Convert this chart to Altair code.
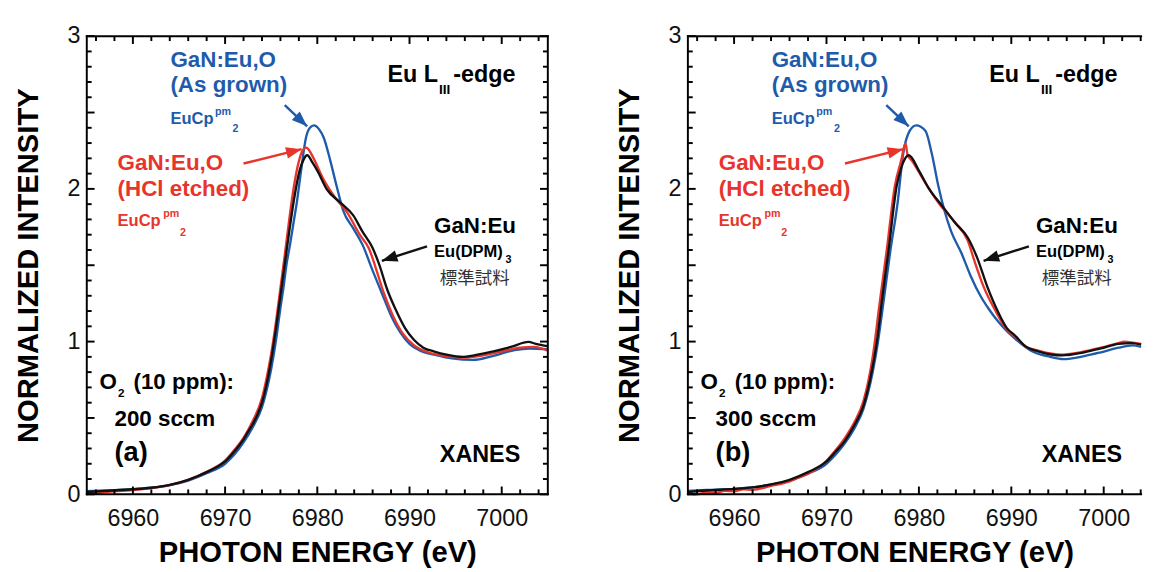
import altair as alt
import pandas as pd

FONT = "Liberation Sans"
CJK = "Noto Sans CJK JP"
BLUE = "#1f5bab"
RED = "#e8352b"
BLACK = "#111111"

# ---------------- panel (a): O2 200 sccm ----------------
a_blue_x = [6955, 6957, 6960, 6962, 6964, 6966, 6968, 6970, 6971, 6972, 6973, 6974, 6974.5, 6975, 6975.5,
            6976, 6976.3, 6976.7, 6977, 6977.4, 6977.8, 6978.24, 6978.77, 6979.2, 6979.65, 6980.2, 6980.7,
            6981.4, 6982.1, 6982.8, 6983.9, 6984.9, 6986.0, 6987.0, 6988.0, 6989, 6990, 6991, 6993, 6994.6,
            6996.9, 6999, 7001.4, 7003, 7005]
a_blue_y = [0.02, 0.025, 0.033, 0.043, 0.06, 0.09, 0.138, 0.20, 0.26, 0.34, 0.44, 0.57, 0.68, 0.82, 1.0,
            1.22, 1.34, 1.52, 1.62, 1.77, 1.92, 2.12, 2.335, 2.40, 2.416, 2.39, 2.335,
            2.187, 2.017, 1.86, 1.741, 1.635, 1.465, 1.317, 1.17, 1.06, 0.985, 0.945, 0.91, 0.89,
            0.88, 0.905, 0.945, 0.955, 0.95]

a_red_x = [6955, 6957, 6960, 6962, 6964, 6966, 6968, 6970, 6971, 6972, 6973, 6974, 6974.5, 6975, 6975.5,
           6976, 6976.5, 6977, 6977.5, 6978, 6978.4, 6978.8, 6979.2, 6979.6, 6980.7, 6981.4, 6982.1, 6983.2,
           6984.6, 6985.6, 6986.3, 6987.2, 6988.2, 6989.3, 6990.5, 6992, 6994, 6996, 6998, 7000, 7002,
           7003.5, 7005]
a_red_y = [0.005, 0.015, 0.028, 0.04, 0.06, 0.095, 0.148, 0.22, 0.29, 0.37, 0.48, 0.63, 0.76, 0.92, 1.12,
           1.35, 1.58, 1.82, 2.03, 2.18, 2.25, 2.27, 2.245, 2.20, 2.06, 1.99, 1.93, 1.85,
           1.70, 1.61, 1.49, 1.32, 1.17, 1.05, 0.975, 0.93, 0.905, 0.895, 0.91, 0.935, 0.96,
           0.965, 0.94]

a_black_x = [6955, 6957, 6960, 6962, 6964, 6966, 6967, 6968, 6969, 6970, 6971, 6972, 6972.5, 6973, 6973.5,
             6974, 6974.5, 6975, 6975.5, 6976, 6976.5, 6977, 6977.5, 6978, 6978.5, 6978.9, 6979.5, 6980,
             6981.05, 6982.5, 6983.9, 6984.9, 6986, 6986.7, 6987.6, 6988.5, 6989.5, 6990.5, 6991.5, 6992.7,
             6994, 6995.8, 6997, 6999, 7001, 7002.9, 7003.7, 7005]
a_black_y = [0.015, 0.022, 0.033, 0.043, 0.062, 0.095, 0.118, 0.145, 0.175, 0.215, 0.28, 0.36, 0.41, 0.46, 0.52,
             0.60, 0.72, 0.88, 1.08, 1.30, 1.52, 1.74, 1.94, 2.10, 2.19, 2.22, 2.17, 2.12,
             1.996, 1.91, 1.826, 1.72, 1.613, 1.507, 1.338, 1.21, 1.09, 1.01, 0.96, 0.935,
             0.915, 0.90, 0.91, 0.935, 0.965, 0.998, 0.985, 0.97]

# ---------------- panel (b): O2 300 sccm ----------------
b_blue_x = [6955, 6957, 6960, 6962, 6964, 6966, 6968, 6970, 6971, 6972, 6973, 6974, 6975, 6975.5, 6976.2,
            6976.9, 6977.7, 6978.3, 6979.0, 6979.7, 6980.7, 6981.4, 6982.1, 6982.8, 6983.5, 6984.6, 6985.6,
            6986.7, 6987.6, 6988.6, 6989.5, 6990.4, 6992.3, 6994.2, 6995.6, 6997.9, 6999.7, 7001.6, 7003.1, 7005]
b_blue_y = [0.022, 0.028, 0.036, 0.045, 0.063, 0.09, 0.135, 0.20, 0.26, 0.335, 0.43, 0.56, 0.80, 0.97, 1.274,
            1.59, 1.91, 2.23, 2.38, 2.416, 2.38, 2.23, 2.02, 1.85, 1.72, 1.58, 1.43,
            1.295, 1.21, 1.13, 1.07, 1.02, 0.935, 0.90, 0.885, 0.905, 0.93, 0.96, 0.975, 0.965]

b_red_x = [6955, 6956, 6957, 6958, 6959, 6960, 6961, 6962, 6964, 6966, 6967, 6968, 6970, 6971, 6972, 6973,
           6974, 6975, 6975.8, 6976.5, 6977.4, 6978.1, 6978.55, 6978.75, 6979.3, 6980.7, 6982.1, 6983.9,
           6985.3, 6986.0, 6987.0, 6988.3, 6989.5, 6990.4, 6991.5, 6993, 6995.5, 6997.9, 6999.7, 7001.6,
           7002.2, 7003.5, 7005]
b_red_y = [0.005, 0.0, 0.012, 0.01, 0.022, 0.02, 0.032, 0.03, 0.055, 0.085, 0.11, 0.135, 0.22, 0.29, 0.37, 0.47,
           0.61, 0.90, 1.274, 1.59, 2.02, 2.19, 2.30, 2.23, 2.18, 2.04, 1.91, 1.78,
           1.66, 1.53, 1.36, 1.20, 1.08, 1.03, 0.97, 0.94, 0.915, 0.935, 0.96, 0.99,
           1.0, 0.99, 0.985]

b_black_x = [6955, 6957, 6960, 6962, 6964, 6966, 6968, 6970, 6971, 6972, 6973, 6974, 6974.75, 6975.5, 6976,
             6976.7, 6977.6, 6978.1, 6978.9, 6980.0, 6981.1, 6982.5, 6983.9, 6985.3, 6986.3, 6987.4, 6988.6,
             6989.5, 6990.4, 6991.5, 6993, 6995.5, 6997.9, 6999.7, 7001.6, 7003, 7005]
b_black_y = [0.015, 0.025, 0.035, 0.045, 0.065, 0.095, 0.145, 0.215, 0.28, 0.35, 0.45, 0.58, 0.76, 1.02, 1.27,
             1.59, 2.02, 2.14, 2.22, 2.12, 2.0, 1.89, 1.78, 1.68, 1.55, 1.36, 1.19,
             1.09, 1.04, 0.97, 0.935, 0.91, 0.93, 0.955, 0.985, 0.99, 0.98]

# ---------------- tick positions ----------------
x_major = [6960, 6970, 6980, 6990, 7000]
x_minor = [v for v in range(6956, 7005, 2) if v % 10 != 0]
y_major = [0, 0.5, 1, 1.5, 2, 2.5, 3]
y_labels = [0, 1, 2, 3]
y_minor = [round(i * 0.1, 1) for i in range(31) if i % 5 != 0]

X0 = 6955
XMAX_A = 7005
XMAX_B = 7004.05
PLOT_H = 471


def make_panel(blue, red, black, xmax, tag, flow, full_frame, width):
    xs = alt.Scale(domain=[X0, xmax], nice=False, zero=False, clamp=True)
    ys = alt.Scale(domain=[0, 3], nice=False, zero=False)
    px_x = width / (xmax - X0)      # pixels per eV (tick length conversion)
    px_y = PLOT_H / 3.0             # pixels per intensity unit

    x_axis = alt.Axis(orient="bottom", values=x_major, ticks=False, tickSize=0, domain=False, grid=False,
                      labelPadding=13, labelFont=FONT, labelFontSize=24, labelColor="#111", format="d",
                      labelFlush=False, title="PHOTON ENERGY (eV)", titleFont=FONT, titleFontSize=30,
                      titleFontWeight="bold", titleColor="#000", titlePadding=8)
    y_axis = alt.Axis(orient="left", values=y_labels, ticks=False, tickSize=0, domain=False, grid=False,
                      labelPadding=7, labelFont=FONT, labelFontSize=24, labelColor="#111", format="d",
                      title="NORMALIZED INTENSITY", titleFont=FONT, titleFontSize=30, titleFontWeight="bold",
                      titleColor="#000", titlePadding=24)

    def df(xv, yv):
        return pd.DataFrame({"x": xv, "y": yv})

    def nx(field="x"):
        return alt.X(f"{field}:Q", scale=xs, axis=x_axis)

    def ny(field="y"):
        return alt.Y(f"{field}:Q", scale=ys, axis=y_axis)

    layers = []
    for (xv, yv), col in ((blue, BLUE), (red, RED), (black, BLACK)):
        layers.append(alt.Chart(df(xv, yv)).mark_line(color=col, strokeWidth=2.4,
                                                      interpolate="monotone").encode(x=nx(), y=ny()))

    # frame
    frame_kw = dict(color="#000", strokeWidth=2, strokeCap="square")
    layers.append(alt.Chart(pd.DataFrame({"y": [0, 3]})).mark_rule(**frame_kw).encode(y=ny()))
    fx = [X0, xmax] if full_frame else [X0]
    layers.append(alt.Chart(pd.DataFrame({"x": fx})).mark_rule(**frame_kw).encode(x=nx()))

    # inward ticks, one small rule layer per tick position (positions from the tick lists)
    tick_kw = dict(color="#000", strokeWidth=2)

    def xtick(v, at, length, sign):
        d = pd.DataFrame({"x": [v], "y": [at], "y2": [at + sign * length / px_y]})
        return alt.Chart(d).mark_rule(**tick_kw).encode(x=nx(), y=ny(), y2="y2:Q")

    def ytick(v, at, length, sign):
        d = pd.DataFrame({"x": [at], "x2": [at + sign * length / px_x], "y": [v]})
        return alt.Chart(d).mark_rule(**tick_kw).encode(x=nx(), x2="x2:Q", y=ny())

    for v in x_major:
        layers += [xtick(v, 0, 8, 1), xtick(v, 3, 8, -1)]
    for v in x_minor:
        layers += [xtick(v, 0, 5, 1), xtick(v, 3, 5, -1)]
    for v in y_major:
        layers.append(ytick(v, X0, 8, 1))
        if full_frame:
            layers.append(ytick(v, xmax, 8, -1))
    for v in y_minor:
        layers.append(ytick(v, X0, 5, 1))
        if full_frame:
            layers.append(ytick(v, xmax, 5, -1))

    # arrows
    arrows = pd.DataFrame({
        "x": [6976.47, 6972.0, 6991.9],
        "y": [2.548, 2.166, 1.624],
        "x2": [6978.9, 6978.3, 6987.0],
        "y2": [2.41, 2.26, 1.529],
    })
    acolors = [BLUE, RED, BLACK]
    angles = [133, 76, 252]
    head = "M0,0L0.75,2L-0.75,2Z"
    for i in range(3):
        row = arrows.iloc[[i]]
        layers.append(alt.Chart(row).mark_rule(color=acolors[i], strokeWidth=2.5).encode(
            x=nx("x"), y=ny("y"), x2="x2:Q", y2="y2:Q"))
        layers.append(alt.Chart(row).mark_point(shape=head, filled=True, size=256, angle=angles[i],
                                                color=acolors[i], opacity=1, strokeWidth=0).encode(
            x=nx("x2"), y=ny("y2")))

    # text annotations
    def txt(x, y, s, size, color, weight="bold", font=FONT):
        return alt.Chart(pd.DataFrame({"x": [x], "y": [y], "t": [s]})).mark_text(
            align="left", baseline="alphabetic", font=font, fontSize=size, fontWeight=weight, color=color
        ).encode(x=nx(), y=ny(), text="t:N")

    layers += [
        txt(6964.07, 2.80, "GaN:Eu,O", 23, BLUE),
        txt(6964.07, 2.635, "(As grown)", 23, BLUE),
        txt(6964.07, 2.425, "EuCp", 17, BLUE),
        txt(6968.9, 2.484, "pm", 11, BLUE),
        txt(6970.8, 2.37, "2", 11, BLUE),
        txt(6958.34, 2.125, "GaN:Eu,O", 23, RED),
        txt(6958.34, 1.956, "(HCl etched)", 23, RED),
        txt(6958.34, 1.756, "EuCp", 17, RED),
        txt(6963.28, 1.815, "pm", 11, RED),
        txt(6965.1, 1.694, "2", 11, RED),
        txt(6987.6, 2.70, "Eu L", 24, "#000"),
        txt(6993.2, 2.623, "III", 14, "#000"),
        txt(6994.75, 2.70, "-edge", 24, "#000"),
        txt(6992.66, 1.712, "GaN:Eu", 23, "#000"),
        txt(6992.66, 1.552, "Eu(DPM)", 17, "#000"),
        txt(7000.41, 1.516, "3", 11, "#000"),
        txt(6993.29, 1.375, "標準試料", 18, "#333", weight="normal", font=CJK),
        txt(6956.37, 0.691, "O", 23, "#000"),
        txt(6958.38, 0.637, "2", 12, "#000"),
        txt(6960.06, 0.691, "(10 ppm):", 23, "#000"),
        txt(6958.0, 0.449, flow, 23, "#000"),
        txt(6958.0, 0.217, tag, 28, "#000"),
        txt(6993.29, 0.21, "XANES", 24, "#000"),
    ]

    return alt.layer(*layers).properties(width=width, height=PLOT_H)


left = make_panel((a_blue_x, a_blue_y), (a_red_x, a_red_y), (a_black_x, a_black_y),
                  XMAX_A, "(a)", "200 sccm", True, 474)
right = make_panel((b_blue_x, b_blue_y), (b_red_x, b_red_y), (b_black_x, b_black_y),
                   XMAX_B, "(b)", "300 sccm", False, 466)

chart = alt.hconcat(left, right, spacing=64).properties(
    padding={"left": 6, "top": 9, "right": 0, "bottom": 0},
    background="white",
).configure_view(strokeWidth=0)

chart.save("out.html", embed_options={"renderer": "svg", "actions": False})
